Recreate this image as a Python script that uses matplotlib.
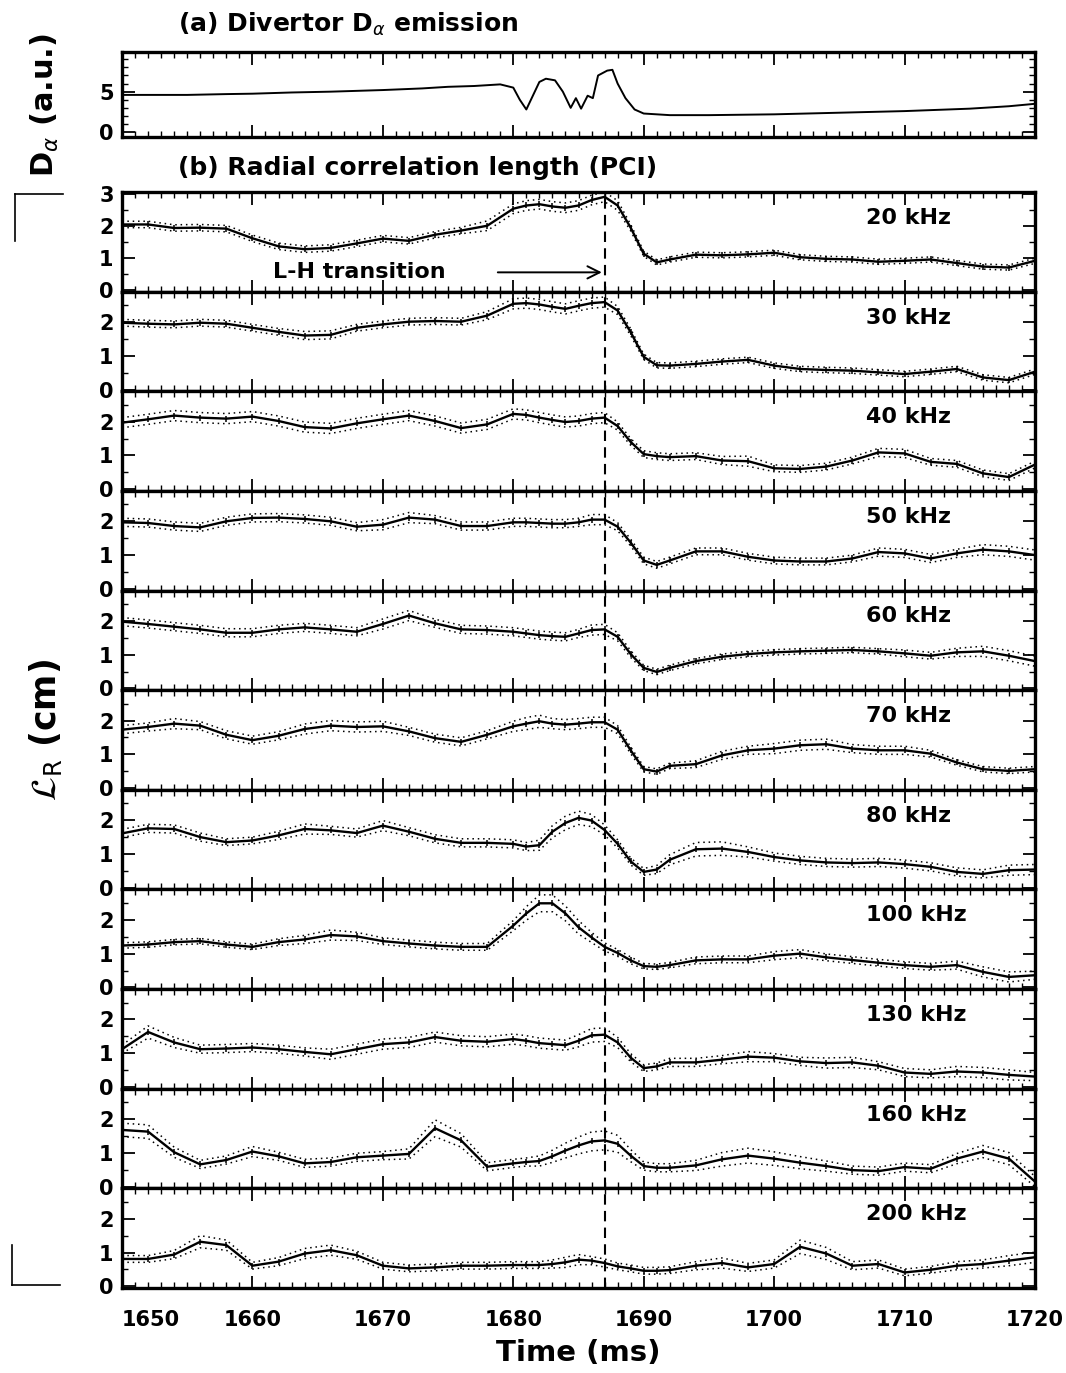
import numpy as np
import matplotlib
matplotlib.use("Agg")
from matplotlib import pyplot as plt
from matplotlib.ticker import MultipleLocator

# ---------------------------------------------------------------
# data
# ---------------------------------------------------------------
t_da = [1650, 1652, 1655, 1658, 1660, 1663, 1666, 1670, 1673, 1675, 1677, 1679,
        1680, 1680.5, 1681, 1681.5, 1682, 1682.5, 1683.2, 1683.8, 1684.4, 1684.8,
        1685.2, 1685.7, 1686.1, 1686.5, 1687.2, 1687.6, 1688, 1688.6, 1689.3,
        1690, 1692, 1695, 1700, 1705, 1710, 1715, 1718, 1720]
d_alpha = [4.6, 4.6, 4.6, 4.7, 4.75, 4.9, 5.0, 5.2, 5.4, 5.6, 5.7, 5.9,
           5.5, 4.0, 2.8, 4.5, 6.2, 6.6, 6.4, 5.0, 3.0, 4.2,
           2.9, 4.5, 4.2, 7.0, 7.6, 7.7, 6.0, 4.2, 2.8,
           2.3, 2.1, 2.1, 2.2, 2.4, 2.6, 2.9, 3.2, 3.5]

t_ms = [1650, 1652, 1654, 1656, 1658, 1660, 1662, 1664, 1666, 1668, 1670, 1672,
        1674, 1676, 1678, 1680, 1681, 1682, 1683, 1684, 1685, 1686, 1687, 1688,
        1689, 1690, 1691, 1692, 1694, 1696, 1698, 1700, 1702, 1704, 1706, 1708,
        1710, 1712, 1714, 1716, 1718, 1720]
time_ticks = [1650, 1660, 1670, 1680, 1690, 1700, 1710, 1720]

freqs = ["20 kHz", "30 kHz", "40 kHz", "50 kHz", "60 kHz", "70 kHz",
         "80 kHz", "100 kHz", "130 kHz", "160 kHz", "200 kHz"]

lr_20 = [2.04, 2.04, 1.93, 1.94, 1.91, 1.61, 1.36, 1.27, 1.31, 1.45, 1.60, 1.53,
         1.72, 1.85, 2.00, 2.53, 2.63, 2.67, 2.60, 2.56, 2.63, 2.80, 2.90, 2.63,
         1.94, 1.13, 0.86, 0.95, 1.10, 1.08, 1.11, 1.16, 1.02, 0.97, 0.95, 0.88,
         0.91, 0.95, 0.84, 0.73, 0.70, 0.91]
lr_30 = [1.98, 1.95, 1.93, 1.98, 1.95, 1.83, 1.71, 1.60, 1.62, 1.83, 1.93, 2.01,
         2.03, 2.01, 2.19, 2.54, 2.56, 2.52, 2.45, 2.39, 2.48, 2.56, 2.59, 2.34,
         1.70, 0.97, 0.72, 0.71, 0.76, 0.83, 0.88, 0.71, 0.61, 0.58, 0.56, 0.51,
         0.46, 0.53, 0.61, 0.36, 0.28, 0.53]
lr_40 = [1.97, 2.07, 2.18, 2.12, 2.09, 2.15, 2.02, 1.84, 1.80, 1.95, 2.07, 2.18,
         2.02, 1.81, 1.92, 2.23, 2.20, 2.12, 2.05, 1.99, 2.02, 2.09, 2.12, 1.87,
         1.40, 1.04, 0.98, 0.95, 0.98, 0.85, 0.83, 0.62, 0.60, 0.67, 0.85, 1.09,
         1.06, 0.81, 0.75, 0.47, 0.36, 0.73]
lr_50 = [1.97, 1.95, 1.86, 1.82, 2.00, 2.10, 2.11, 2.07, 2.00, 1.84, 1.90, 2.11,
         2.05, 1.86, 1.86, 1.97, 1.97, 1.95, 1.93, 1.93, 1.97, 2.05, 2.05, 1.84,
         1.37, 0.84, 0.71, 0.84, 1.11, 1.11, 0.95, 0.84, 0.81, 0.81, 0.90, 1.09,
         1.05, 0.90, 1.05, 1.16, 1.11, 1.00]
lr_60 = [1.98, 1.91, 1.83, 1.75, 1.65, 1.65, 1.75, 1.81, 1.75, 1.68, 1.91, 2.16,
         1.93, 1.75, 1.73, 1.68, 1.63, 1.58, 1.55, 1.53, 1.63, 1.73, 1.75, 1.53,
         1.02, 0.61, 0.49, 0.61, 0.81, 0.94, 1.02, 1.07, 1.10, 1.12, 1.14, 1.10,
         1.04, 0.97, 1.07, 1.10, 0.97, 0.81]
lr_70 = [1.73, 1.81, 1.91, 1.85, 1.58, 1.42, 1.55, 1.75, 1.85, 1.81, 1.83, 1.68,
         1.48, 1.37, 1.58, 1.83, 1.91, 1.98, 1.91, 1.88, 1.91, 1.95, 1.95, 1.73,
         1.12, 0.56, 0.49, 0.66, 0.71, 0.97, 1.12, 1.17, 1.27, 1.30, 1.17, 1.12,
         1.12, 1.02, 0.76, 0.56, 0.51, 0.56]
lr_80 = [1.61, 1.76, 1.74, 1.50, 1.35, 1.40, 1.55, 1.74, 1.70, 1.62, 1.84, 1.66,
         1.45, 1.33, 1.33, 1.30, 1.22, 1.26, 1.66, 1.92, 2.07, 1.99, 1.71, 1.30,
         0.78, 0.47, 0.54, 0.83, 1.14, 1.16, 1.06, 0.91, 0.81, 0.75, 0.73, 0.75,
         0.70, 0.62, 0.47, 0.41, 0.52, 0.54]
lr_100 = [1.24, 1.27, 1.34, 1.37, 1.27, 1.20, 1.34, 1.42, 1.55, 1.51, 1.37, 1.30,
          1.24, 1.20, 1.20, 1.83, 2.19, 2.49, 2.49, 2.19, 1.78, 1.48, 1.20, 1.02,
          0.80, 0.63, 0.61, 0.66, 0.80, 0.83, 0.83, 0.94, 1.00, 0.89, 0.81, 0.73,
          0.66, 0.61, 0.66, 0.46, 0.31, 0.36]
lr_130 = [1.12, 1.63, 1.32, 1.12, 1.14, 1.17, 1.12, 1.04, 0.97, 1.12, 1.27, 1.32,
          1.48, 1.37, 1.34, 1.42, 1.37, 1.30, 1.27, 1.24, 1.37, 1.53, 1.55, 1.32,
          0.87, 0.56, 0.61, 0.73, 0.73, 0.81, 0.90, 0.87, 0.76, 0.71, 0.73, 0.63,
          0.43, 0.39, 0.46, 0.43, 0.36, 0.31]
lr_160 = [1.68, 1.63, 1.02, 0.66, 0.79, 1.04, 0.90, 0.69, 0.73, 0.87, 0.92, 0.97,
          1.73, 1.37, 0.59, 0.69, 0.73, 0.76, 0.90, 1.07, 1.22, 1.34, 1.37, 1.27,
          0.92, 0.61, 0.56, 0.56, 0.63, 0.81, 0.92, 0.83, 0.71, 0.61, 0.49, 0.46,
          0.58, 0.53, 0.83, 1.04, 0.83, 0.15]
lr_200 = [0.81, 0.81, 0.94, 1.32, 1.22, 0.61, 0.73, 0.97, 1.07, 0.92, 0.61, 0.53,
          0.56, 0.61, 0.61, 0.63, 0.63, 0.63, 0.66, 0.71, 0.79, 0.76, 0.69, 0.59,
          0.53, 0.46, 0.46, 0.48, 0.61, 0.69, 0.56, 0.66, 1.17, 0.97, 0.61, 0.66,
          0.41, 0.49, 0.61, 0.66, 0.76, 0.86]

# half-width of the dotted error envelope
err_20 = [0.10, 0.10, 0.10, 0.10, 0.10, 0.10, 0.10, 0.10, 0.10, 0.10, 0.10, 0.10,
          0.10, 0.10, 0.15, 0.15, 0.15, 0.15, 0.15, 0.15, 0.15, 0.15, 0.15, 0.15,
          0.10, 0.08, 0.08, 0.08, 0.08, 0.08, 0.08, 0.08, 0.08, 0.08, 0.08, 0.08,
          0.08, 0.08, 0.08, 0.08, 0.08, 0.08]
err_30 = [0.10, 0.10, 0.10, 0.10, 0.10, 0.10, 0.10, 0.12, 0.12, 0.10, 0.10, 0.10,
          0.10, 0.10, 0.12, 0.15, 0.15, 0.15, 0.15, 0.15, 0.15, 0.15, 0.15, 0.12,
          0.10, 0.08, 0.08, 0.08, 0.08, 0.08, 0.08, 0.08, 0.08, 0.08, 0.08, 0.08,
          0.08, 0.08, 0.08, 0.08, 0.08, 0.08]
err_40 = [0.15, 0.15, 0.15, 0.15, 0.15, 0.15, 0.15, 0.15, 0.15, 0.15, 0.15, 0.15,
          0.15, 0.15, 0.15, 0.15, 0.15, 0.15, 0.15, 0.15, 0.15, 0.15, 0.15, 0.12,
          0.10, 0.10, 0.10, 0.10, 0.10, 0.12, 0.15, 0.10, 0.10, 0.10, 0.10, 0.12,
          0.12, 0.10, 0.10, 0.10, 0.10, 0.10]
err_50 = [0.12, 0.12, 0.12, 0.12, 0.12, 0.12, 0.12, 0.12, 0.12, 0.12, 0.15, 0.15,
          0.12, 0.12, 0.12, 0.12, 0.12, 0.12, 0.12, 0.12, 0.12, 0.15, 0.15, 0.12,
          0.10, 0.10, 0.10, 0.10, 0.10, 0.10, 0.10, 0.10, 0.10, 0.10, 0.10, 0.12,
          0.12, 0.12, 0.12, 0.15, 0.15, 0.15]
err_60 = [0.12, 0.12, 0.12, 0.12, 0.12, 0.12, 0.12, 0.12, 0.12, 0.12, 0.15, 0.15,
          0.12, 0.12, 0.12, 0.12, 0.12, 0.12, 0.12, 0.12, 0.12, 0.15, 0.15, 0.12,
          0.10, 0.08, 0.08, 0.08, 0.08, 0.08, 0.08, 0.08, 0.08, 0.08, 0.08, 0.08,
          0.10, 0.10, 0.12, 0.15, 0.15, 0.15]
err_70 = [0.12, 0.12, 0.15, 0.12, 0.12, 0.12, 0.12, 0.15, 0.15, 0.15, 0.15, 0.12,
          0.12, 0.12, 0.12, 0.15, 0.18, 0.18, 0.15, 0.15, 0.15, 0.15, 0.15, 0.12,
          0.10, 0.08, 0.08, 0.08, 0.10, 0.12, 0.12, 0.15, 0.15, 0.15, 0.12, 0.12,
          0.12, 0.10, 0.08, 0.08, 0.08, 0.08]
err_80 = [0.12, 0.12, 0.12, 0.12, 0.10, 0.10, 0.12, 0.15, 0.12, 0.12, 0.15, 0.12,
          0.12, 0.12, 0.12, 0.12, 0.12, 0.15, 0.18, 0.20, 0.20, 0.18, 0.15, 0.12,
          0.10, 0.10, 0.12, 0.15, 0.20, 0.20, 0.15, 0.12, 0.12, 0.12, 0.12, 0.12,
          0.12, 0.12, 0.12, 0.12, 0.15, 0.15]
err_100 = [0.08, 0.08, 0.08, 0.08, 0.08, 0.08, 0.10, 0.12, 0.15, 0.12, 0.10, 0.10,
           0.10, 0.10, 0.10, 0.15, 0.20, 0.25, 0.25, 0.22, 0.20, 0.15, 0.12, 0.10,
           0.10, 0.08, 0.08, 0.08, 0.10, 0.10, 0.10, 0.12, 0.12, 0.10, 0.10, 0.10,
           0.10, 0.10, 0.12, 0.15, 0.15, 0.12]
err_130 = [0.12, 0.18, 0.15, 0.12, 0.12, 0.12, 0.12, 0.12, 0.15, 0.15, 0.15, 0.15,
           0.15, 0.15, 0.15, 0.15, 0.15, 0.15, 0.15, 0.15, 0.18, 0.20, 0.20, 0.15,
           0.12, 0.10, 0.10, 0.12, 0.12, 0.12, 0.15, 0.12, 0.12, 0.15, 0.15, 0.12,
           0.12, 0.12, 0.15, 0.15, 0.15, 0.12]
err_160 = [0.20, 0.20, 0.15, 0.12, 0.12, 0.15, 0.12, 0.12, 0.12, 0.12, 0.12, 0.15,
           0.25, 0.20, 0.12, 0.12, 0.12, 0.15, 0.18, 0.22, 0.25, 0.28, 0.28, 0.25,
           0.18, 0.12, 0.12, 0.12, 0.15, 0.20, 0.22, 0.20, 0.18, 0.15, 0.12, 0.12,
           0.12, 0.12, 0.15, 0.18, 0.18, 0.15]
err_200 = [0.10, 0.10, 0.12, 0.18, 0.15, 0.10, 0.12, 0.15, 0.15, 0.12, 0.10, 0.10,
           0.10, 0.10, 0.10, 0.10, 0.10, 0.10, 0.12, 0.15, 0.15, 0.12, 0.12, 0.10,
           0.10, 0.10, 0.10, 0.10, 0.12, 0.15, 0.12, 0.12, 0.20, 0.18, 0.12, 0.12,
           0.10, 0.10, 0.12, 0.12, 0.15, 0.15]

series = [lr_20, lr_30, lr_40, lr_50, lr_60, lr_70, lr_80, lr_100, lr_130, lr_160, lr_200]
errors = [err_20, err_30, err_40, err_50, err_60, err_70, err_80, err_100, err_130, err_160, err_200]

t_lh = 1687.0

# ---------------------------------------------------------------
# figure
# ---------------------------------------------------------------
W, H = 1066, 1373
fig = plt.figure(figsize=(W / 100, H / 100), dpi=100)
plt.rcParams['font.family'] = ['DejaVu Sans']


def px_box(top, bottom, left=122, right=1035):
    return [left / W, 1 - bottom / H, (right - left) / W, (bottom - top) / H]


def style_axis(ax, bottom_labels=False):
    for sp in ax.spines.values():
        sp.set_linewidth(2.4)
    ax.set_xlim(1650, 1720)
    ax.set_xticks(time_ticks)
    ax.xaxis.set_minor_locator(MultipleLocator(1))
    ax.tick_params(which='both', direction='in', top=True, right=True)
    ax.tick_params(which='major', length=9, width=1.3, labelsize=15, pad=6)
    ax.tick_params(which='minor', length=4, width=1.0)
    ax.tick_params(axis='x', labelbottom=bottom_labels, pad=16)
    for lab in ax.get_yticklabels() + ax.get_xticklabels():
        lab.set_fontweight('bold')


# (a) divertor D-alpha
ax_a = fig.add_axes(px_box(52, 137))
ax_a.plot(t_da, d_alpha, color='black', lw=1.4)
ax_a.set_ylim(-0.6, 9.9)
ax_a.set_yticks([0, 5])
ax_a.yaxis.set_minor_locator(MultipleLocator(1))
style_axis(ax_a)
fig.text(178 / W, 1 - 24 / H, r'(a) Divertor D$_{\alpha}$ emission', fontsize=18,
         fontweight='bold', va='center', ha='left')
fig.text(45 / W, 1 - 105 / H, r'D$_{\alpha}$ (a.u.)', fontsize=22, fontweight='bold',
         rotation=90, va='center', ha='center')

# (b) radial correlation length
fig.text(178 / W, 1 - 168 / H, '(b) Radial correlation length (PCI)', fontsize=18,
         fontweight='bold', va='center', ha='left')

top0, bot_last = 192, 1288
step = (bot_last - top0) / len(freqs)
axes = []
for i, (lab, vals, err) in enumerate(zip(freqs, series, errors)):
    top = top0 + i * step
    ax = fig.add_axes(px_box(top, top + step))
    vals = np.array(vals)
    err = np.array(err)
    ax.plot(t_ms, vals + err, color='black', lw=1.1, ls=(0, (1, 2.5)))
    ax.plot(t_ms, vals - err, color='black', lw=1.1, ls=(0, (1, 2.5)))
    ax.plot(t_ms, vals, color='black', lw=1.7, marker='|', ms=5, mew=1.1)
    ax.axvline(t_lh, color='black', lw=1.5, ls=(0, (5, 3)))
    if i == 0:
        ax.set_ylim(-0.05, 3.05)
        ax.set_yticks([0, 1, 2, 3])
    else:
        ax.set_ylim(-0.05, 2.9)
        ax.set_yticks([0, 1, 2])
    ax.yaxis.set_minor_locator(MultipleLocator(0.5))
    style_axis(ax, bottom_labels=(i == len(freqs) - 1))
    ax.text(0.815, 0.74, lab, transform=ax.transAxes, fontsize=16,
            fontweight='bold', ha='left', va='center')
    axes.append(ax)

# first time label sits inside the frame in the original
axes[-1].get_xticklabels()[0].set_horizontalalignment('left')

# L-H transition arrow
axes[0].annotate('', xy=(t_lh, 0.55), xytext=(1678.6, 0.55),
                 arrowprops=dict(arrowstyle='->', lw=1.4, color='black',
                                 mutation_scale=22))
axes[0].text(1661.6, 0.55, 'L-H transition', fontsize=16, fontweight='bold',
             ha='left', va='center')

axes[-1].set_xlabel('Time (ms)', fontsize=21, fontweight='bold', labelpad=6)

fig.text(45 / W, 1 - 730 / H, r'$\mathcal{L}_{\mathrm{R}}$ (cm)', fontsize=25,
         fontweight='bold', rotation=90, va='center', ha='center')

# bracket marks left of the y-label
fig.add_artist(plt.Line2D([15 / W, 63 / W], [1 - 194 / H, 1 - 194 / H], color='black', lw=1.2))
fig.add_artist(plt.Line2D([15 / W, 15 / W], [1 - 194 / H, 1 - 241 / H], color='black', lw=1.2))
fig.add_artist(plt.Line2D([12 / W, 12 / W], [1 - 1245 / H, 1 - 1285 / H], color='black', lw=1.2))
fig.add_artist(plt.Line2D([12 / W, 60 / W], [1 - 1285 / H, 1 - 1285 / H], color='black', lw=1.2))

fig.savefig('out.png', dpi=100)
